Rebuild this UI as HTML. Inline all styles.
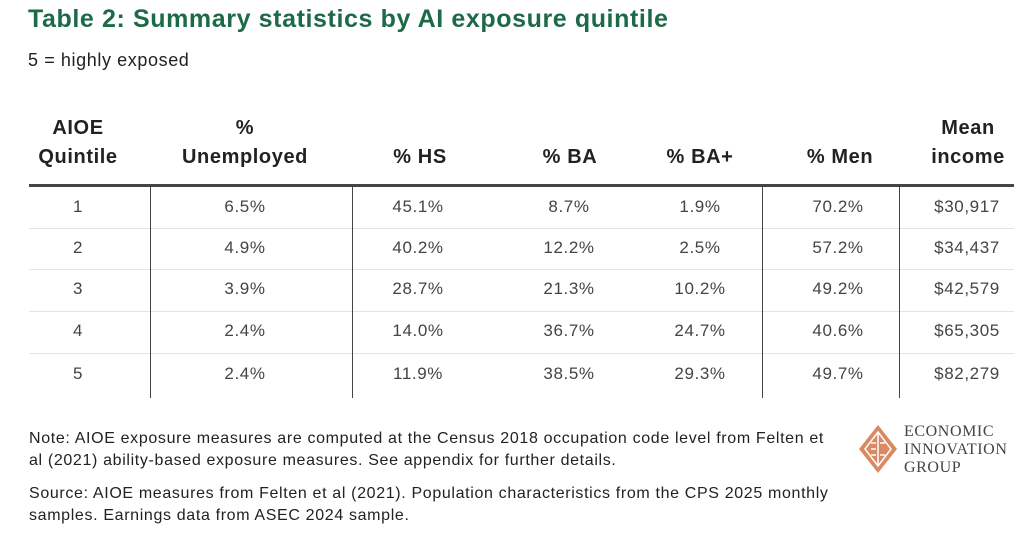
<!DOCTYPE html>
<html><head><style>
body{margin:0;width:1024px;height:555px;background:#fff;position:relative;font-family:"Liberation Sans",sans-serif;color:#222;overflow:hidden}
.a{position:absolute;white-space:nowrap}
.h{font-weight:bold;font-size:20px;letter-spacing:0.6px;color:#222;text-align:center;line-height:29px}
.v{font-size:17px;letter-spacing:0.6px;color:#444;transform:translateX(-50%)}
.r{position:absolute;left:29px;width:985px;height:1px;background:#e4e4e4}
.vl{position:absolute;width:1px;background:#444;top:186px;height:212px}
.n{font-size:16px;letter-spacing:0.65px;color:#222;line-height:22px}
</style></head><body>
<div class="a" style="left:28px;top:5px;font-size:25px;letter-spacing:0.6px;font-weight:bold;color:#1d6a47">Table 2: Summary statistics by AI exposure quintile</div>
<div class="a" style="left:28px;top:50px;font-size:18px;letter-spacing:0.6px;color:#222">5 = highly exposed</div>

<div class="a h" style="left:18px;width:120px;top:114px">AIOE<br>Quintile</div>
<div class="a h" style="left:170px;width:150px;top:114px">%<br>Unemployed</div>
<div class="a h" style="left:370px;width:100px;top:143px">% HS</div>
<div class="a h" style="left:520px;width:100px;top:143px">% BA</div>
<div class="a h" style="left:650px;width:100px;top:143px">% BA+</div>
<div class="a h" style="left:775px;width:130px;top:143px">% Men</div>
<div class="a h" style="left:918px;width:100px;top:114px">Mean<br>income</div>

<div style="position:absolute;left:29px;top:184px;width:985px;height:3px;background:#444"></div>
<div class="r" style="top:228px"></div>
<div class="r" style="top:269px"></div>
<div class="r" style="top:311px"></div>
<div class="r" style="top:353px"></div>
<div class="vl" style="left:150px"></div>
<div class="vl" style="left:352px"></div>
<div class="vl" style="left:762px"></div>
<div class="vl" style="left:899px"></div>

<div id="rows"></div>
<script>
var d=[["1","6.5%","45.1%","8.7%","1.9%","70.2%","$30,917"],["2","4.9%","40.2%","12.2%","2.5%","57.2%","$34,437"],["3","3.9%","28.7%","21.3%","10.2%","49.2%","$42,579"],["4","2.4%","14.0%","36.7%","24.7%","40.6%","$65,305"],["5","2.4%","11.9%","38.5%","29.3%","49.7%","$82,279"]];
var xs=[78,245,418,569,700,838,967],ys=[197,238,279,321,364],h="";
d.forEach(function(r,i){r.forEach(function(c,j){h+='<div class="a v" style="left:'+xs[j]+'px;top:'+ys[i]+'px">'+c+'</div>';});});
document.getElementById('rows').innerHTML=h;
</script>

<div class="a n" style="left:29px;top:428px">Note: AIOE exposure measures are computed at the Census 2018 occupation code level from Felten et<br>al (2021) ability-based exposure measures. See appendix for further details.</div>
<div class="a n" style="left:29px;top:483px">Source: AIOE measures from Felten et al (2021). Population characteristics from the CPS 2025 monthly<br>samples. Earnings data from ASEC 2024 sample.</div>

<svg class="a" style="left:856px;top:423px" width="44" height="52" viewBox="0 0 44 52">
<polygon points="22,2 41,26 22,50 3,26" fill="#d98a62"/>
<polygon points="22,9 35,26 22,43 9,26" fill="none" stroke="#fff" stroke-width="1.5"/>
<line x1="22" y1="9" x2="22" y2="43" stroke="#fff" stroke-width="1.5"/>
<path d="M15,20 h5 M15,26 h5 M15,32 h5 M24,20 h5 M24,32 h5" stroke="#fff" stroke-width="1.5"/>
</svg>
<div class="a" style="left:904px;top:423px;font-family:'Liberation Serif',serif;font-size:16px;line-height:18px;color:#444;letter-spacing:0.6px">ECONOMIC<br>INNOVATION<br>GROUP</div>
</body></html>
